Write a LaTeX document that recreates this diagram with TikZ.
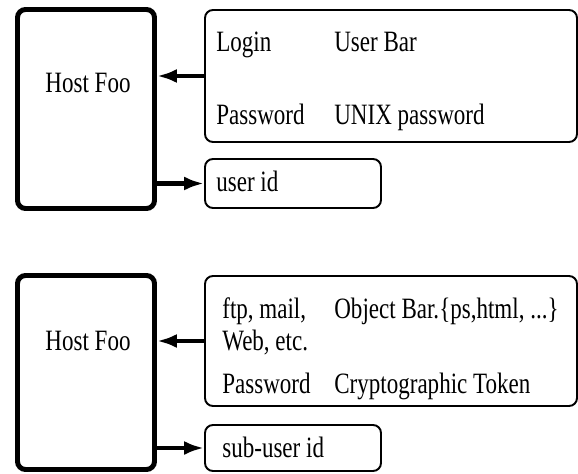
\documentclass[tikz,border=0pt]{standalone}
\usepackage{fontspec}
\setmainfont[FakeStretch=0.78]{Liberation Serif}
\usepackage{tikz}
\usetikzlibrary{arrows.meta}

\tikzset{
	hostbox/.style={draw, line width=2.8pt, rounded corners=0.16cm, inner sep=0pt},
	infobox/.style={draw, line width=1.1pt, rounded corners=0.16cm, inner sep=0pt},
	lbl/.style={anchor=base west, inner sep=0pt},
	link/.style={line width=2.8pt, -{Latex[length=0.4cm, width=0.28cm]}}
}

\begin{document}
\begin{tikzpicture}[font=\fontsize{16.8}{19}\selectfont]
			\useasboundingbox (0, 0) rectangle (11.56, -9.48);
			% Boxes, upper half:
			\node[hostbox, minimum width=2.74cm, minimum height=3.98cm](hostA) at (1.72, -2.18){};
			\node[anchor=base, inner sep=0pt](nameA) at (1.76, -1.85){Host Foo};
			\node[infobox, minimum width=7.44cm, minimum height=2.64cm](credA) at (7.82, -1.52){};
			\node[infobox, minimum width=3.52cm, minimum height=0.98cm](uidA) at (5.86, -3.67){};
			\node[lbl](loginA) at (4.32, -1.04){Login};
			\node[lbl](userA) at (6.68, -1.04){User Bar};
			\node[lbl](pwA) at (4.32, -2.5){Password};
			\node[lbl](unixA) at (6.68, -2.5){UNIX password};
			\node[lbl](idA) at (4.32, -3.84){user id};
			% Boxes, lower half:
			\node[hostbox, minimum width=2.74cm, minimum height=3.88cm](hostB) at (1.72, -7.45){};
			\node[anchor=base, inner sep=0pt](nameB) at (1.76, -7.0){Host Foo};
			\node[infobox, minimum width=7.44cm, minimum height=2.6cm](credB) at (7.82, -6.82){};
			\node[infobox, minimum width=3.52cm, minimum height=0.92cm](uidB) at (5.86, -8.96){};
			\node[lbl](svcB) at (4.44, -6.36){ftp, mail,};
			\node[lbl](webB) at (4.44, -7.0){Web, etc.};
			\node[lbl](pwB) at (4.44, -7.86){Password};
			\node[lbl](objB) at (6.68, -6.36){Object Bar.\{ps,html, ...\}};
			\node[lbl](tokB) at (6.68, -7.86){Cryptographic Token};
			\node[lbl](idB) at (4.44, -9.14){sub-user id};
			% Arrows:
			\draw[link] (credA.west) -- (credA.west -| hostA.east);
			\draw[link] (hostA.east |- uidA.west) -- (uidA.west);
			\draw[link] (credB.west) -- (credB.west -| hostB.east);
			\draw[link] (hostB.east |- uidB.west) -- (uidB.west);
\end{tikzpicture}
\end{document}
